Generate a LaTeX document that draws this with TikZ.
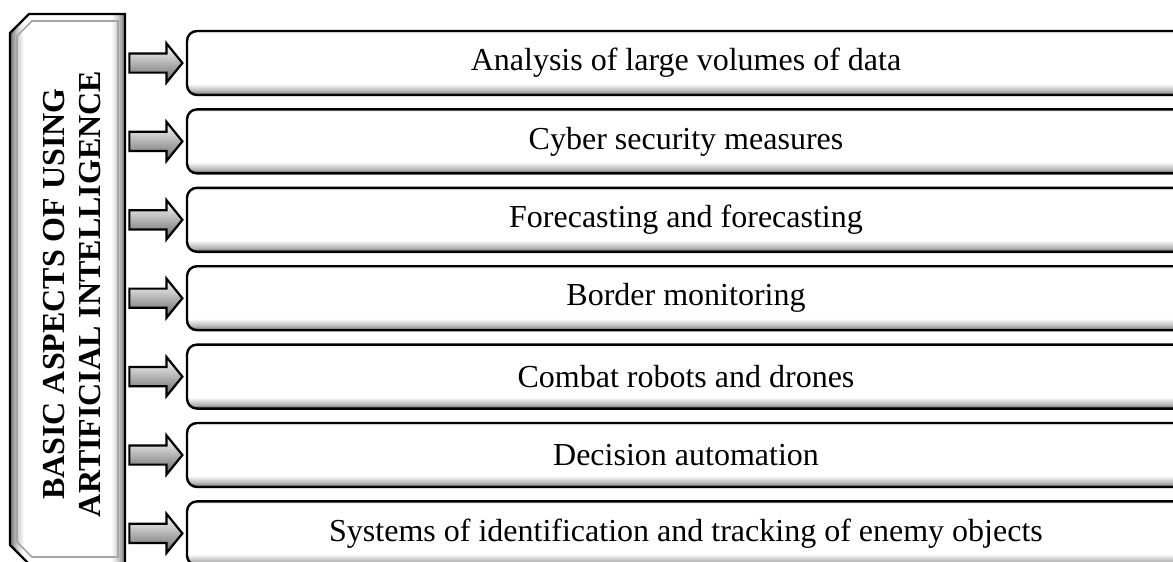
\documentclass[tikz,border=0pt]{standalone}
\usepackage{fontspec}
\setmainfont{Liberation Serif}
\usetikzlibrary{positioning,shapes.arrows}
\pgfdeclareverticalshading{boxbevel}{100bp}{color(0bp)=(black!65); color(25bp)=(black!65); color(28bp)=(black!30); color(34bp)=(white); color(73bp)=(white); color(75bp)=(black!10); color(100bp)=(black!10)}
\pgfdeclarehorizontalshading{sidebevel}{100bp}{color(0bp)=(black!55); color(25bp)=(black!55); color(28bp)=(black!20); color(31bp)=(white); color(69bp)=(white); color(72bp)=(black!20); color(75bp)=(black!55); color(100bp)=(black!55)}

\begin{document}
\begin{tikzpicture}[x=0.5pt, y=-0.5pt, font=\fontsize{16}{18}\selectfont, node distance=6pt]
  \tikzstyle{box}=[rectangle, rounded corners=5pt, draw=black, line width=1.2pt,
                   shading=boxbevel, minimum width=499pt, minimum height=32pt,
                   inner sep=0pt, align=center]
  \tikzstyle{arr}=[single arrow, draw=black, line width=1.1pt, top color=white,
                   bottom color=black!60, minimum height=26.5pt, minimum width=18.5pt,
                   text height=0pt, text depth=0pt, inner xsep=0pt, inner ysep=4.25pt,
                   single arrow head extend=5pt, single arrow tip angle=102]
  \path[use as bounding box, clip] (0,0) rectangle (1173,562);
  % side panel
  \draw[line width=1.2pt, shading=sidebevel] (10,33) -- (29,14) -- (125,14) -- (125,564)
    -- (29,564) -- (10,545) -- cycle;
  \draw[black!35, line width=0.8pt] (17,36) -- (32,21) -- (118,21) -- (118,557)
    -- (32,557) -- (17,542) -- cycle;
  \node[rotate=90, align=center, font=\bfseries\fontsize{16}{18}\selectfont](p) at (72,294)
    {BASIC ASPECTS OF USING\\ARTIFICIAL INTELLIGENCE};
  % items
  \node[box](a) at (686,63){Analysis of large volumes of data};
  \node[box,below=of a](b){Cyber security measures};
  \node[box,below=of b](c){Forecasting and forecasting};
  \node[box,below=of c](d){Border monitoring};
  \node[box,below=of d](e){Combat robots and drones};
  \node[box,below=of e](f){Decision automation};
  \node[box,below=of f](g){Systems of identification and tracking of enemy objects};
  % arrows
  \node[arr,left=1pt of a](aa){}; \node[arr,left=1pt of b](ab){};
  \node[arr,left=1pt of c](ac){}; \node[arr,left=1pt of d](ad){};
  \node[arr,left=1pt of e](ae){}; \node[arr,left=1pt of f](af){};
  \node[arr,left=1pt of g](ag){};
\end{tikzpicture}
\end{document}
